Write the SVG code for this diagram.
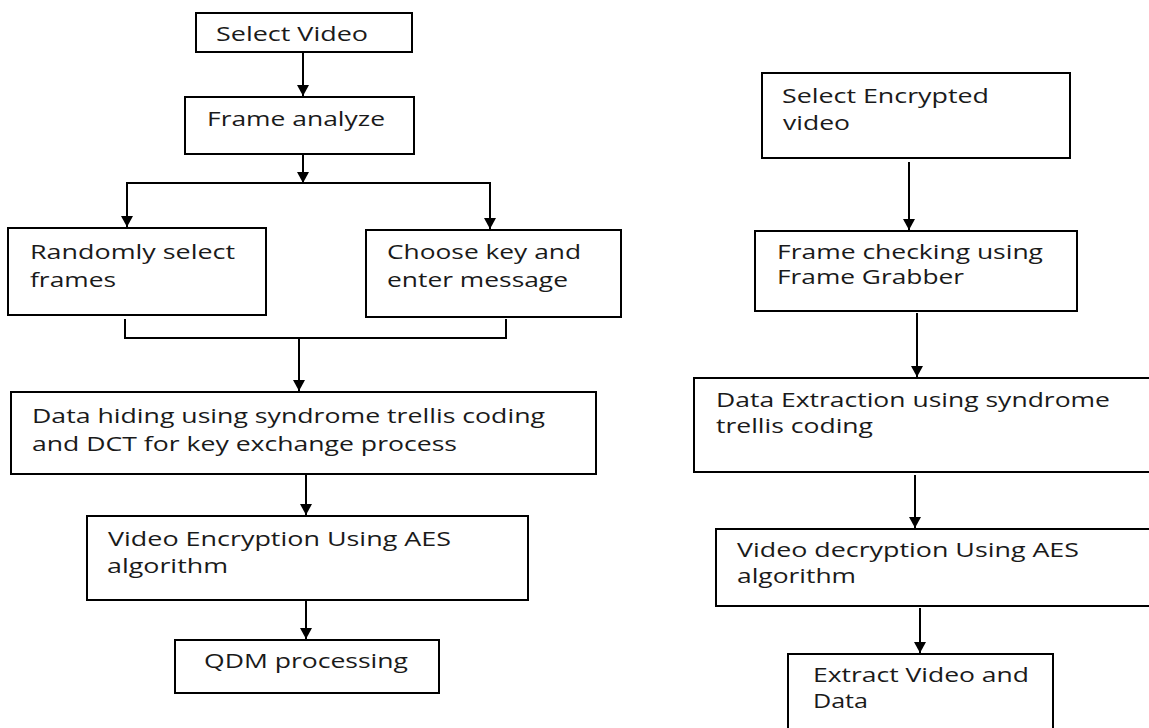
<svg xmlns="http://www.w3.org/2000/svg" width="1149" height="728" viewBox="0 0 1149 728">
<defs>
<style>
.box{fill:#fff;stroke:#000;stroke-width:2}
.t{font-family:"Open Sans","Liberation Sans",sans-serif;font-size:20px;fill:#1a1a1a}
.c{fill:none;stroke:#000;stroke-width:2}
</style>
<marker id="ah" viewBox="0 0 11 12" refX="11" refY="6" markerWidth="11" markerHeight="12" markerUnits="userSpaceOnUse" orient="auto">
<path d="M0,0 L11,6 L0,12 z" fill="#000"/>
</marker>
</defs>
<rect width="1149" height="728" fill="#fff"/>
<g id="n_select_video">
<rect class="box" x="196" y="13" width="216" height="39"/>
<text class="t" x="216" y="41" textLength="152" lengthAdjust="spacingAndGlyphs">Select Video</text>
</g>
<g id="n_frame_analyze">
<rect class="box" x="185" y="97" width="229" height="57"/>
<text class="t" x="207" y="126" textLength="178" lengthAdjust="spacingAndGlyphs">Frame analyze</text>
</g>
<g id="n_random">
<rect class="box" x="8" y="228" width="258" height="87"/>
<text class="t" x="30" y="259" textLength="205" lengthAdjust="spacingAndGlyphs">Randomly select</text>
<text class="t" x="30" y="287" textLength="86" lengthAdjust="spacingAndGlyphs">frames</text>
</g>
<g id="n_choose">
<rect class="box" x="366" y="230" width="255" height="87"/>
<text class="t" x="387" y="259" textLength="194" lengthAdjust="spacingAndGlyphs">Choose key and</text>
<text class="t" x="387" y="287" textLength="181" lengthAdjust="spacingAndGlyphs">enter message</text>
</g>
<g id="n_data_hiding">
<rect class="box" x="11" y="392" width="585" height="82"/>
<text class="t" x="32" y="423" textLength="513" lengthAdjust="spacingAndGlyphs">Data hiding using syndrome trellis coding</text>
<text class="t" x="32" y="451" textLength="425" lengthAdjust="spacingAndGlyphs">and DCT for key exchange process</text>
</g>
<g id="n_video_enc">
<rect class="box" x="87" y="516" width="441" height="84"/>
<text class="t" x="108" y="546" textLength="343" lengthAdjust="spacingAndGlyphs">Video Encryption Using AES</text>
<text class="t" x="107" y="573" textLength="121" lengthAdjust="spacingAndGlyphs">algorithm</text>
</g>
<g id="n_qdm">
<rect class="box" x="175" y="640" width="264" height="53"/>
<text class="t" x="204" y="668" textLength="204" lengthAdjust="spacingAndGlyphs">QDM processing</text>
</g>
<g id="n_select_enc">
<rect class="box" x="762" y="73" width="308" height="85"/>
<text class="t" x="782" y="103" textLength="207" lengthAdjust="spacingAndGlyphs">Select Encrypted</text>
<text class="t" x="783" y="130" textLength="67" lengthAdjust="spacingAndGlyphs">video</text>
</g>
<g id="n_frame_check">
<rect class="box" x="755" y="231" width="322" height="80"/>
<text class="t" x="777" y="259" textLength="266" lengthAdjust="spacingAndGlyphs">Frame checking using</text>
<text class="t" x="777" y="284" textLength="187" lengthAdjust="spacingAndGlyphs">Frame Grabber</text>
</g>
<g id="n_data_extract">
<rect class="box" x="694" y="378" width="470" height="94"/>
<text class="t" x="716" y="407" textLength="394" lengthAdjust="spacingAndGlyphs">Data Extraction using syndrome</text>
<text class="t" x="716" y="433" textLength="157" lengthAdjust="spacingAndGlyphs">trellis coding</text>
</g>
<g id="n_video_dec">
<rect class="box" x="716" y="529" width="450" height="77"/>
<text class="t" x="737" y="557" textLength="342" lengthAdjust="spacingAndGlyphs">Video decryption Using AES</text>
<text class="t" x="737" y="583" textLength="119" lengthAdjust="spacingAndGlyphs">algorithm</text>
</g>
<g id="n_extract">
<rect class="box" x="788" y="654" width="265" height="90"/>
<text class="t" x="813" y="682" textLength="216" lengthAdjust="spacingAndGlyphs">Extract Video and</text>
<text class="t" x="813" y="708" textLength="55" lengthAdjust="spacingAndGlyphs">Data</text>
</g>
<g id="connectors">
<line class="c" x1="303" y1="52" x2="303" y2="96" marker-end="url(#ah)"/>
<line class="c" x1="303" y1="154" x2="303" y2="183" marker-end="url(#ah)"/>
<polyline class="c" points="127,226 127,183 490,183 490,229" marker-end="url(#ah)"/>
<line class="c" x1="127" y1="183" x2="127" y2="227" marker-end="url(#ah)"/>
<polyline class="c" points="125,319 125,338 506,338 506,319"/>
<line class="c" x1="299" y1="338" x2="299" y2="391" marker-end="url(#ah)"/>
<line class="c" x1="306" y1="474" x2="306" y2="515" marker-end="url(#ah)"/>
<line class="c" x1="306" y1="600" x2="306" y2="639" marker-end="url(#ah)"/>
<line class="c" x1="909" y1="162" x2="909" y2="230" marker-end="url(#ah)"/>
<line class="c" x1="917" y1="313" x2="917" y2="377" marker-end="url(#ah)"/>
<line class="c" x1="915" y1="475" x2="915" y2="528" marker-end="url(#ah)"/>
<line class="c" x1="920" y1="608" x2="920" y2="653" marker-end="url(#ah)"/>
</g>
</svg>
